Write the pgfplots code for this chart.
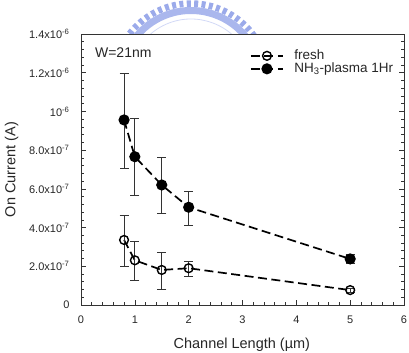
\documentclass[border=0pt]{standalone}
\usepackage{fontspec}
\setmainfont{Liberation Sans}
\usepackage{pgfplots}
\usepackage{pgfplotstable}
\pgfplotsset{compat=1.18}

\definecolor{wmblue}{RGB}{155,170,234}

% On current vs. channel length (mean, upper and lower error)
\pgfplotstableread{
x    y        ep       em
0.8  3.36e-7  1.29e-7  1.38e-7
1.0  2.31e-7  0.99e-7  1.02e-7
1.5  1.81e-7  0.91e-7  1.00e-7
2.0  1.90e-7  0.37e-7  0.40e-7
5.0  0.77e-7  0.10e-7  0.10e-7
}\fresh
\pgfplotstableread{
x    y        ep       em
0.8  9.56e-7  2.41e-7  2.50e-7
1.0  7.66e-7  1.96e-7  1.98e-7
1.5  6.20e-7  1.43e-7  1.46e-7
2.0  5.05e-7  0.80e-7  0.92e-7
5.0  2.38e-7  0.22e-7  0.22e-7
}\plasma

\begin{document}
\begin{tikzpicture}
\useasboundingbox (0,0) rectangle (409bp,353bp);

% university seal ring above the frame
\begin{scope}
  \clip (0,319bp) rectangle (409bp,353bp);
  \draw[wmblue, line width=6.5bp, dash pattern=on 4bp off 3.4bp]
    (191bp,272bp) ++(30:77.5bp) arc[start angle=30, end angle=150, radius=77.5bp];
  \draw[wmblue!85, line width=7bp]
    (191bp,272bp) ++(30:70.5bp) arc[start angle=30, end angle=150, radius=70.5bp];
  \draw[wmblue!45, line width=0.8bp]
    (191bp,272bp) ++(30:62bp) arc[start angle=30, end angle=150, radius=62bp];
\end{scope}

\begin{axis}[
  at={(81bp,48bp)}, anchor=south west,
  scale only axis, width=323bp, height=271bp,
  xmin=0, xmax=6, ymin=0, ymax=1.4e-6,
  xtick={0,1,2,3,4,5,6},
  xticklabels={0,1,2,3,4,5,6},
  minor x tick num=4,
  ytick={0,2e-7,4e-7,6e-7,8e-7,1e-6,1.2e-6,1.4e-6},
  yticklabels={0,
    2.0x10\textsuperscript{-7},
    4.0x10\textsuperscript{-7},
    6.0x10\textsuperscript{-7},
    8.0x10\textsuperscript{-7},
    10\textsuperscript{-6},
    1.2x10\textsuperscript{-6},
    1.4x10\textsuperscript{-6}},
  minor y tick num=4,
  scaled y ticks=false,
  xtick pos=bottom,
  ytick pos=both, yticklabel pos=left,
  tick align=inside,
  major tick length=5bp, minor tick length=3bp,
  tick style={black!80, line width=0.6bp},
  axis line style={black!80, line width=0.9bp},
  tick label style={font=\fontsize{11bp}{13bp}\selectfont, text=black!85},
  xticklabel style={yshift=-7bp},
  yticklabel style={xshift=-8bp},
  xlabel={Channel Length (\textmu m)},
  ylabel={On Current (A)},
  label style={font=\fontsize{14.5bp}{17bp}\selectfont, text=black!85},
  xlabel style={at={(axis description cs:0.498,-0.1605)}, anchor=base},
  ylabel style={at={(axis description cs:-0.215,0.5)}, anchor=center},
  legend style={draw=none, fill=none, at={(rel axis cs:0.523,0.946)}, anchor=north west,
    font=\fontsize{13.5bp}{16bp}\selectfont, inner sep=0pt, row sep=-1bp,
    nodes={inner sep=0.5bp, text height=10bp, text depth=3bp, text=black!85},
    /tikz/every odd column/.append style={column sep=10bp}},
  legend cell align=left,
  legend image code/.code={%
    \draw[#1, mark repeat=2, mark phase=2] plot coordinates {(0bp,0bp) (16bp,0bp) (32bp,0bp)};},
  every axis plot/.append style={black, line width=1.7bp, dash pattern=on 9bp off 4.5bp},
  error bars/y dir=both, error bars/y explicit,
  error bars/error bar style={black!80, line width=0.7bp, solid},
  error bars/error mark options={rotate=90, mark size=4.5bp, line width=0.7bp, black!80, solid},
]
\addplot[mark=o, mark size=4.4bp, mark options={solid, line width=1.4bp}]
  table[x=x, y=y, y error plus=ep, y error minus=em] {\fresh};
\addlegendentry{fresh}
\addplot[mark=*, mark size=4.7bp, mark options={solid, fill=black}]
  table[x=x, y=y, y error plus=ep, y error minus=em] {\plasma};
\addlegendentry{NH\textsubscript{3}-plasma 1Hr}

\node[anchor=west, font=\fontsize{14bp}{16bp}\selectfont, text=black!85, inner sep=0pt]
  at (rel axis cs:0.043,0.93) {W=21nm};
\end{axis}
\end{tikzpicture}
\end{document}
